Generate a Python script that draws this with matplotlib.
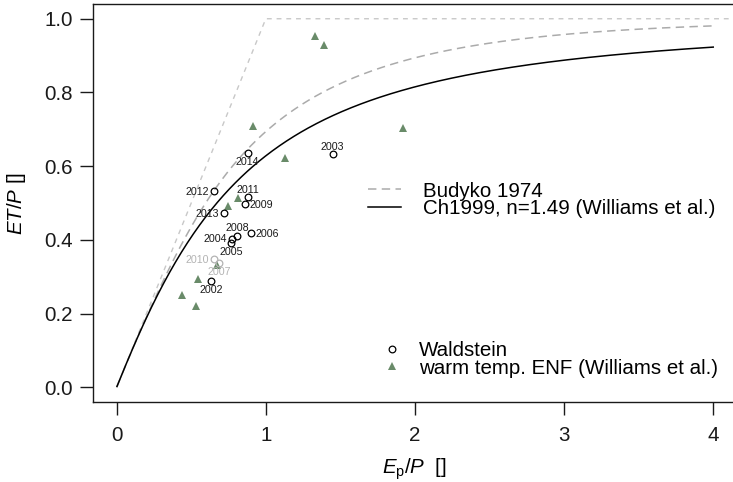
import numpy as np
import matplotlib.pyplot as plt

plt.rcParams["font.family"] = "Liberation Sans"
plt.rcParams["mathtext.fontset"] = "custom"
plt.rcParams["mathtext.rm"] = "Liberation Sans"
plt.rcParams["mathtext.it"] = "Liberation Sans:italic"

########## DATA ########
## Waldstein yearly values (Ep/P, ET/P) and where each year label sits
years = [2002, 2003, 2004, 2005, 2006, 2007, 2008, 2009, 2010, 2011, 2012, 2013, 2014]
wald_ep = [0.634, 1.448, 0.771, 0.766, 0.900, 0.688, 0.807, 0.860, 0.654, 0.882, 0.652, 0.717, 0.878]
wald_et = [0.288, 0.632, 0.403, 0.391, 0.418, 0.336, 0.411, 0.497, 0.348, 0.515, 0.533, 0.472, 0.635]
wald_pos = ["below", "above", "left", "below", "right", "below", "above",
            "right", "left", "above", "left", "left", "below"]
grey_years = [2007, 2010]

## warm temperate ENF sites (Williams et al.)
enf_ep = [0.440, 0.530, 0.547, 0.670, 0.748, 0.815, 0.916, 1.128, 1.332, 1.392, 1.922]
enf_et = [0.251, 0.221, 0.294, 0.332, 0.492, 0.513, 0.709, 0.621, 0.954, 0.929, 0.703]

## curve parameters
ch_n = 1.49
ep_max = 4.0
limit_ep = [0.0, 1.0, 4.3]
limit_et = [0.0, 1.0, 1.0]
###### END DATA ########

phi = np.linspace(0.002, ep_max, 500)
budyko = np.sqrt(phi * np.tanh(1.0 / phi) * (1.0 - np.exp(-phi)))
choudhury = (1.0 + phi ** (-ch_n)) ** (-1.0 / ch_n)

fs = 14.8
fig = plt.figure(figsize=(7.33, 4.82), dpi=100)
ax = fig.add_axes([0.1266, 0.166, 0.879, 0.8257])

ax.plot(limit_ep, limit_et, color="#c8c8c8", lw=1.0, dashes=(3.5, 3.5))
(l_bud,) = ax.plot(phi, budyko, color="#ababab", lw=1.1, dashes=(5.5, 3.5), label="Budyko 1974")
(l_ch,) = ax.plot(phi, choudhury, color="black", lw=1.1, label=f"Ch1999, n={ch_n} (Williams et al.)")

(p_enf,) = ax.plot(enf_ep, enf_et, "^", color="#698B69", ms=6.3, mew=0,
                   label="warm temp. ENF (Williams et al.)")

# Waldstein points, two years drawn grey
px_to_pt = 0.72
offsets = {
    "above": (0, 4.75 * px_to_pt, "center"),
    "below": (0, -12.0 * px_to_pt, "center"),
    "left": (-5.0 * px_to_pt, -3.75 * px_to_pt, "right"),
    "right": (5.0 * px_to_pt, -3.75 * px_to_pt, "left"),
}
p_wald = None
for yr, x, y, pos in zip(years, wald_ep, wald_et, wald_pos):
    col = "#b3b3b3" if yr in grey_years else "black"
    (h,) = ax.plot(x, y, "o", mfc="none", mec=col, ms=4.8, mew=0.9, label="Waldstein")
    if col == "black" and p_wald is None:
        p_wald = h
    dx, dy, ha = offsets[pos]
    ax.annotate(str(yr), (x, y), xytext=(dx, dy), textcoords="offset points",
                ha=ha, va="baseline", fontsize=7.7,
                color="#b3b3b3" if yr in grey_years else "#1a1a1a")

ax.set_xlim(-0.16, 4.16)
ax.set_ylim(-0.04, 1.04)
ax.set_xticks([0, 1, 2, 3, 4])
ax.set_yticks([0.0, 0.2, 0.4, 0.6, 0.8, 1.0])
ax.set_yticklabels(["0.0", "0.2", "0.4", "0.6", "0.8", "1.0"])
ax.tick_params(direction="out", length=9.5, width=1.0, labelsize=fs, colors="#1a1a1a")
ax.tick_params(axis="x", pad=7.5)
ax.tick_params(axis="y", pad=4.7)
for sp in ax.spines.values():
    sp.set_linewidth(1.0)
    sp.set_color("#1a1a1a")

ax.set_xlabel(r"$E_\mathrm{p}/P$  []", fontsize=fs)
ax.set_ylabel(r"$ET/P$ []", fontsize=fs)
ax.xaxis.set_label_coords(0.5, -0.138)
ax.yaxis.set_label_coords(-0.1, 0.5)

leg1 = ax.legend(handles=[l_bud, l_ch], loc="center left", bbox_to_anchor=(0.427, 0.508),
                 frameon=False, fontsize=fs, borderpad=0, borderaxespad=0,
                 handlelength=1.6, handletextpad=1.1, labelspacing=-0.08)
ax.add_artist(leg1)
ax.legend(handles=[p_wald, p_enf], loc="center left", bbox_to_anchor=(0.449, 0.107),
          frameon=False, fontsize=fs, borderpad=0, borderaxespad=0,
          handlelength=1.0, handletextpad=0.8, labelspacing=-0.08, numpoints=1)

plt.savefig("out.png", dpi=100)
